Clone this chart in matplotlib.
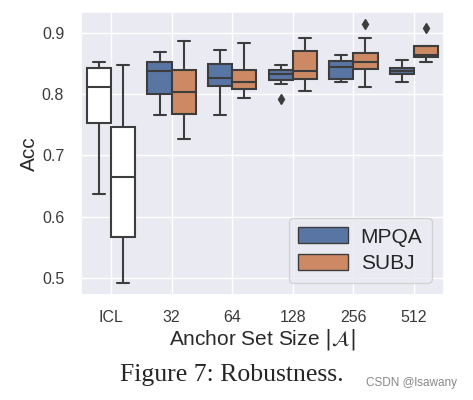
import matplotlib
matplotlib.use("Agg")
import matplotlib.pyplot as plt
import seaborn as sns
from matplotlib.patches import Patch

sns.set_theme(style="darkgrid")
plt.rcParams['font.family'] = ['Liberation Sans', 'DejaVu Sans']

categories = ["ICL", "32", "64", "128", "256", "512"]

# MPQA five-number summaries
mpqa_low  = [0.637, 0.766, 0.766, 0.8165, 0.820, 0.820]
mpqa_q1   = [0.753, 0.800, 0.813, 0.8236, 0.825, 0.832]
mpqa_med  = [0.811, 0.838, 0.826, 0.833, 0.8443, 0.838]
mpqa_q3   = [0.843, 0.852, 0.849, 0.840, 0.8547, 0.843]
mpqa_high = [0.8525, 0.868, 0.8715, 0.848, 0.864, 0.856]
mpqa_fliers = [[], [], [], [0.7925], [], []]

# SUBJ five-number summaries
subj_low  = [0.492, 0.727, 0.7936, 0.805, 0.812, 0.8525]
subj_q1   = [0.567, 0.768, 0.808, 0.8247, 0.841, 0.861]
subj_med  = [0.664, 0.803, 0.819, 0.838, 0.853, 0.8645]
subj_q3   = [0.747, 0.839, 0.839, 0.871, 0.867, 0.879]
subj_high = [0.848, 0.887, 0.8836, 0.891, 0.891, 0.879]
subj_fliers = [[], [], [], [], [0.9147], [0.908]]

series_names = ["MPQA", "SUBJ"]

deep = sns.color_palette("deep")
c_mpqa = sns.desaturate(deep[0], 0.75)
c_subj = sns.desaturate(deep[1], 0.75)
line_c = "#3d3d3d"

fig = plt.figure(figsize=(4.73, 4.0), dpi=100)
ax = fig.add_axes([0.171, 0.2625, 0.768, 0.7075])

def make_stats(low, q1, med, q3, high, fl):
    return [dict(whislo=a, q1=b, med=c, q3=d, whishi=e, fliers=f)
            for a, b, c, d, e, f in zip(low, q1, med, q3, high, fl)]

mstats = make_stats(mpqa_low, mpqa_q1, mpqa_med, mpqa_q3, mpqa_high, mpqa_fliers)
sstats = make_stats(subj_low, subj_q1, subj_med, subj_q3, subj_high, subj_fliers)

common = dict(widths=0.4, capwidths=0.2, patch_artist=True, showfliers=True,
              boxprops=dict(edgecolor=line_c, linewidth=1.5),
              medianprops=dict(color=line_c, linewidth=1.5),
              whiskerprops=dict(color=line_c, linewidth=1.5),
              capprops=dict(color=line_c, linewidth=1.5),
              flierprops=dict(marker='d', markerfacecolor=line_c,
                              markeredgecolor=line_c, markersize=5))

pos = list(range(len(categories)))
bm = ax.bxp(mstats, positions=[p - 0.2 for p in pos], **common)
bs = ax.bxp(sstats, positions=[p + 0.2 for p in pos], **common)
for i, b in enumerate(bm['boxes']):
    b.set_facecolor('white' if i == 0 else c_mpqa)
for i, b in enumerate(bs['boxes']):
    b.set_facecolor('white' if i == 0 else c_subj)

ax.set_xlim(-0.5, 5.5)
ax.set_ylim(0.472, 0.934)
ax.set_xticks(pos)
ax.set_xticklabels(categories)
ax.set_yticks([0.5, 0.6, 0.7, 0.8, 0.9])
ax.tick_params(axis='both', labelsize=11.5, labelcolor="#3a3a3a")
ax.tick_params(axis='x', pad=5)
ax.tick_params(axis='y', pad=6)
ax.set_xlabel(r"Anchor Set Size $|\mathcal{A}|$", fontsize=15, labelpad=1,
              color="#2a2a2a")
ax.set_ylabel("Acc", fontsize=15, labelpad=2, color="#2a2a2a")

handles = [Patch(facecolor=c_mpqa, edgecolor=line_c, linewidth=1.0),
           Patch(facecolor=c_subj, edgecolor=line_c, linewidth=1.0)]
ax.legend(handles, series_names, loc="lower right", fontsize=15,
          handlelength=2.4, handleheight=0.8, borderaxespad=0.6,
          labelspacing=0.35, handletextpad=0.6, borderpad=0.45)

fig.text(0.49, 0.063, "Figure 7: Robustness.", family="Liberation Serif",
         fontsize=18.5, ha="center", va="center")
fig.text(0.966, 0.0425, "CSDN @lsawany", fontsize=8.5, color="#888888",
         ha="right", va="center")

fig.savefig("out.png", dpi=100)
